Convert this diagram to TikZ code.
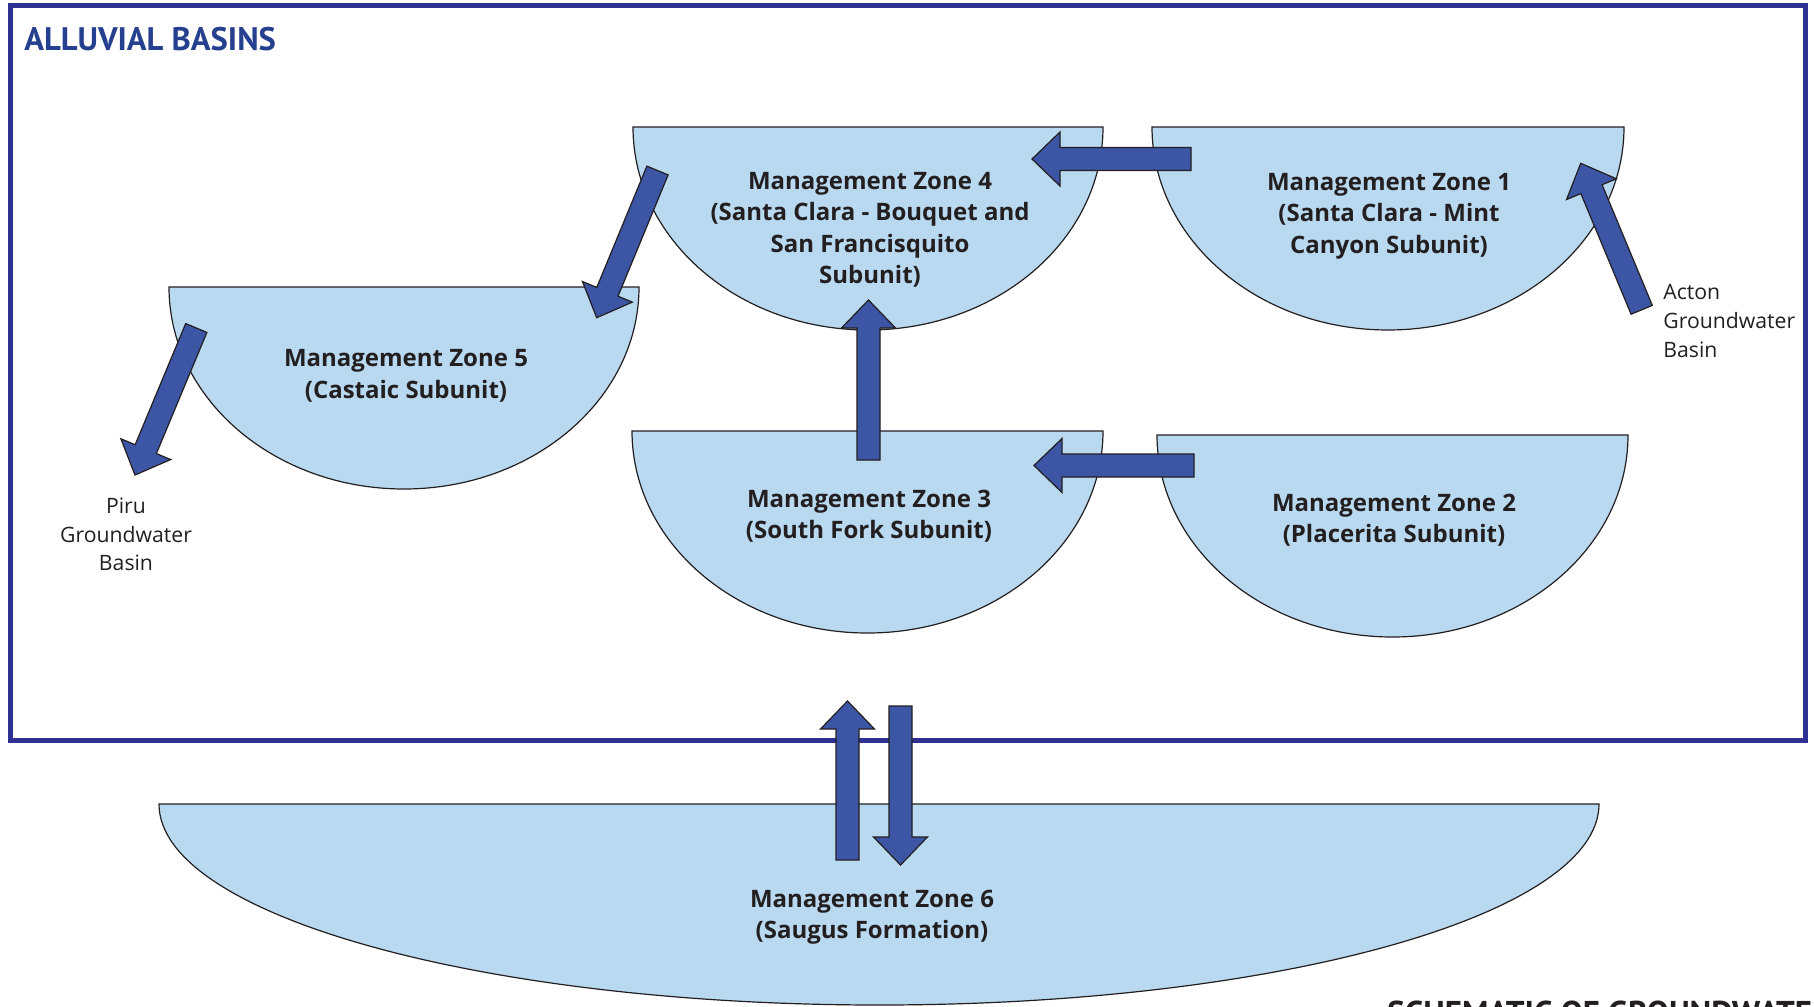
\documentclass[tikz,border=0pt]{standalone}
\usepackage{fontspec}
\setmainfont{PT Sans}
\newfontfamily\zonefont{Open Sans}
\usetikzlibrary{calc}
\definecolor{zonefill}{RGB}{185,217,240}
\definecolor{frameblue}{RGB}{46,49,146}
\definecolor{titleblue}{RGB}{37,64,143}
\definecolor{arrowblue}{RGB}{60,85,165}
\definecolor{inkdark}{RGB}{35,31,32}
\tikzset{
  zonesty/.style={fill=zonefill, draw=inkdark, line width=0.6pt},
  arrowsty/.style={fill=arrowblue, draw=inkdark, line width=0.6pt, line join=miter},
  zonetext/.style={font=\zonefont\bfseries\fontsize{12}{15.75}\selectfont, text=inkdark, align=center, inner sep=0pt},
  sidetext/.style={font=\zonefont\fontsize{10.6}{14.3}\selectfont, text=inkdark, inner sep=0pt},
}
% zone shape: left x, top y, right x, bottom y (pixel units)
\newcommand\zoneshape[4]{%
  \pgfmathsetmacro\za{(#3-#1)/4}%
  \pgfmathsetmacro\zb{(#4-#2)/2}%
  \draw[zonesty] (#1,#2) arc[start angle=180, end angle=360, x radius=\za pt, y radius=\zb pt] -- cycle;}
% block arrow from tail coordinate to tip coordinate
\newcommand\blockarrow[2]{%
  \coordinate (ba-h) at ($(#2)!14pt!(#1)$);
  \draw[arrowsty] ($(#1)!5.75pt!90:(#2)$) -- ($(ba-h)!5.75pt!-90:(#1)$) -- ($(ba-h)!13.5pt!-90:(#1)$) -- (#2)
     -- ($(ba-h)!13.5pt!90:(#1)$) -- ($(ba-h)!5.75pt!90:(#1)$) -- ($(#1)!5.75pt!-90:(#2)$) -- cycle;}
\begin{document}
\begin{tikzpicture}[x=0.5pt, y=-0.5pt]
\useasboundingbox (0,0) rectangle (1814,1006);
\clip (0,0) rectangle (1814,1006);
% frame
\draw[frameblue, line width=2.5pt] (10,6) rectangle (1805,740);
\node[anchor=base west, inner sep=0pt, text=titleblue, font=\bfseries\fontsize{16.3}{20}\selectfont] (title) at (24,51) {ALLUVIAL BASINS};
% zones
\zoneshape{633}{127}{1103}{330}
\zoneshape{1152}{127}{1624}{330}
\zoneshape{169}{287}{639}{489}
\zoneshape{632}{431}{1103}{633}
\zoneshape{1157}{435}{1628}{637}
\zoneshape{159}{804}{1599}{1005}
\node[zonetext] (z4) at (870,230) {Management Zone 4\\(Santa Clara - Bouquet and\\San Francisquito\\Subunit)};
\node[zonetext] (z1) at (1389,216) {Management Zone 1\\(Santa Clara - Mint\\Canyon Subunit)};
\node[zonetext] (z5) at (406,376) {Management Zone 5\\(Castaic Subunit)};
\node[zonetext] (z3) at (869,516) {Management Zone 3\\(South Fork Subunit)};
\node[zonetext] (z2) at (1394,520) {Management Zone 2\\(Placerita Subunit)};
\node[zonetext] (z6) at (872,917) {Management Zone 6\\(Saugus Formation)};
\node[sidetext, anchor=west, align=left] (acton) at (1663,321) {Acton\\Groundwater\\Basin};
\node[sidetext, align=center] (piru) at (126,534.5) {Piru\\Groundwater\\Basin};
\node[anchor=base west, inner sep=0pt, text=inkdark, font=\bfseries\fontsize{16.5}{20}\selectfont] (schem) at (1387,1024) {SCHEMATIC OF GROUNDWATER};
% arrow end points
\coordinate (a1t) at (1191,159);   \coordinate (a1h) at (1032,159);
\coordinate (a2t) at (657.5,170.5); \coordinate (a2h) at (596.7,317.7);
\coordinate (a3t) at (868.5,460);  \coordinate (a3h) at (868.5,300);
\coordinate (a4t) at (1194,465.5); \coordinate (a4h) at (1034,465.5);
\coordinate (a5t) at (1641.7,309.8); \coordinate (a5h) at (1580.7,163.3);
\coordinate (a6t) at (196.3,328);  \coordinate (a6h) at (135,475);
\coordinate (a7t) at (847.5,860);  \coordinate (a7h) at (847.5,701);
\coordinate (a8t) at (900.5,706);  \coordinate (a8h) at (900.5,865);
\blockarrow{a1t}{a1h}
\blockarrow{a2t}{a2h}
\blockarrow{a3t}{a3h}
\blockarrow{a4t}{a4h}
\blockarrow{a5t}{a5h}
\blockarrow{a6t}{a6h}
\blockarrow{a7t}{a7h}
\blockarrow{a8t}{a8h}
\end{tikzpicture}
\end{document}
